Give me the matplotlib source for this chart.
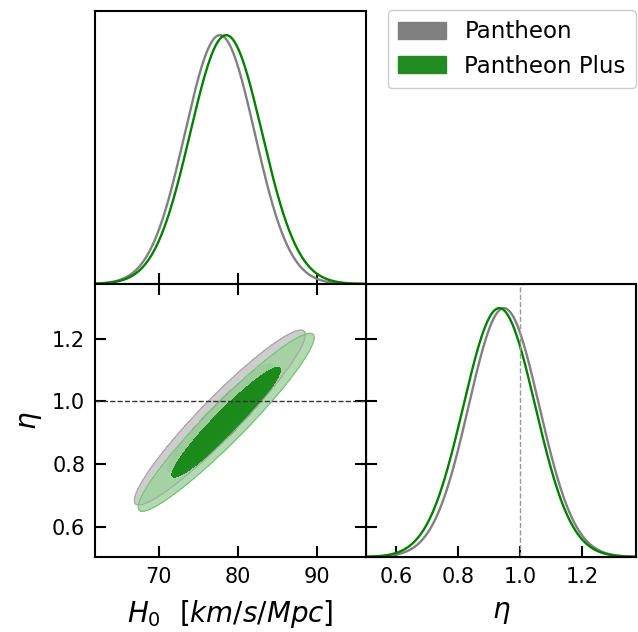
import numpy as np
import matplotlib
matplotlib.use("Agg")
import matplotlib.pyplot as plt
from matplotlib.patches import Patch

# ---- data (posterior summaries) ----
labels = ["Pantheon", "Pantheon Plus"]
h0_mean = [77.7, 78.5]
h0_sigma = [4.42, 4.55]
eta_mean = [0.948, 0.933]
eta_sigma = [0.114, 0.116]
rho = [0.948, 0.953]
line_colors = ["#808080", "#008000"]
legend_colors = ["#808080", "#228b22"]
outer_fill = ["#cdcdcd", "#9bd39b"]
inner_fill = ["#8f8f8f", "#148714"]
edge_colors = ["#a8a8a8", "#7cc27c"]
fill_alpha = [(1.0, 0.55), (0.8, 0.95)]
h0_ticks = [70, 80, 90]
eta_ticks = [0.6, 0.8, 1.0, 1.2]
h0_lim = (61.9, 96.2)
eta_lim = (0.503, 1.374)
eta_ref = 1.0
levels_chi2 = [2.279, 5.991]  # 68% and 95% 2D

W, H = 638, 632
fig = plt.figure(figsize=(W / 100, H / 100), dpi=100)

def ax_at(x0, y0, x1, y1):
    return fig.add_axes([x0 / W, 1 - y1 / H, (x1 - x0) / W, (y1 - y0) / H])

ax_br = ax_at(366, 284, 636, 557)
ax_tl = ax_at(95, 11, 366, 284)
ax_bl = ax_at(95, 284, 366, 557)

TS = 15
tick_kw = dict(direction="in", length=8, width=1.5, labelsize=TS, pad=7)
for ax in (ax_tl, ax_bl, ax_br):
    for s in ax.spines.values():
        s.set_linewidth(1.5)

# top-left: H0 1D
xg = np.linspace(h0_lim[0], h0_lim[1], 600)
for m, s, c in zip(h0_mean, h0_sigma, line_colors):
    ax_tl.plot(xg, np.exp(-0.5 * ((xg - m) / s) ** 2), color=c, lw=1.7)
ax_tl.set_xlim(*h0_lim)
ax_tl.set_ylim(0, 1.097)
ax_tl.set_xticks(h0_ticks)
ax_tl.set_yticks([])
ax_tl.tick_params(axis="x", labelbottom=False, **tick_kw)

# bottom-right: eta 1D
eg = np.linspace(eta_lim[0], eta_lim[1], 600)
for m, s, c in zip(eta_mean, eta_sigma, line_colors):
    ax_br.plot(eg, np.exp(-0.5 * ((eg - m) / s) ** 2), color=c, lw=1.7)
ax_br.axvline(eta_ref, color="#999999", ls="--", lw=1.0)
ax_br.set_xlim(*eta_lim)
ax_br.set_ylim(0, 1.097)
ax_br.set_xticks(eta_ticks)
ax_br.set_yticks([])
ax_br.tick_params(axis="x", **tick_kw)
ax_br.set_xlabel(r"$\eta$", fontsize=20, labelpad=8)
# eta ticks mirrored on the left edge of the right panel
ax_br2 = ax_br.twinx()
ax_br2.set_ylim(*eta_lim)
ax_br2.set_yticks(eta_ticks)
ax_br2.yaxis.set_ticks_position("left")
ax_br2.tick_params(axis="y", labelleft=False, labelright=False, **tick_kw)

# bottom-left: 2D contours
X, Y = np.meshgrid(np.linspace(h0_lim[0], h0_lim[1], 600),
                   np.linspace(eta_lim[0], eta_lim[1], 600))
for i in range(2):
    dx = (X - h0_mean[i]) / h0_sigma[i]
    dy = (Y - eta_mean[i]) / eta_sigma[i]
    chi2 = (dx ** 2 - 2 * rho[i] * dx * dy + dy ** 2) / (1 - rho[i] ** 2)
    a_out, a_in = fill_alpha[i]
    ax_bl.contourf(X, Y, chi2, levels=[0, levels_chi2[1]], colors=[outer_fill[i]], alpha=a_out)
    ax_bl.contourf(X, Y, chi2, levels=[0, levels_chi2[0]], colors=[inner_fill[i]], alpha=a_in)
    ax_bl.contour(X, Y, chi2, levels=[levels_chi2[1]], colors=[edge_colors[i]], linewidths=0.9)
ax_bl.axhline(eta_ref, color="#333333", ls="--", lw=1.0)
ax_bl.set_xlim(*h0_lim)
ax_bl.set_ylim(*eta_lim)
ax_bl.set_xticks(h0_ticks)
ax_bl.set_yticks(eta_ticks)
ax_bl.tick_params(axis="both", top=True, right=True, **tick_kw)
ax_bl.set_xlabel(r"$H_0\ \ [km/s/Mpc]$", fontsize=20, labelpad=8)
ax_bl.set_ylabel(r"$\eta$", fontsize=20, labelpad=6)

handles = [Patch(facecolor=c, edgecolor=c) for c in legend_colors]
fig.legend(handles, labels, loc="upper right",
           bbox_to_anchor=(636 / W, 1 - 10 / H), fontsize=16.5,
           handlelength=2.1, handleheight=0.75, handletextpad=0.8,
           borderaxespad=0.0, borderpad=0.45, labelspacing=0.5,
           fancybox=True, framealpha=1.0, edgecolor="#cccccc")

fig.savefig("out.png", dpi=100)
